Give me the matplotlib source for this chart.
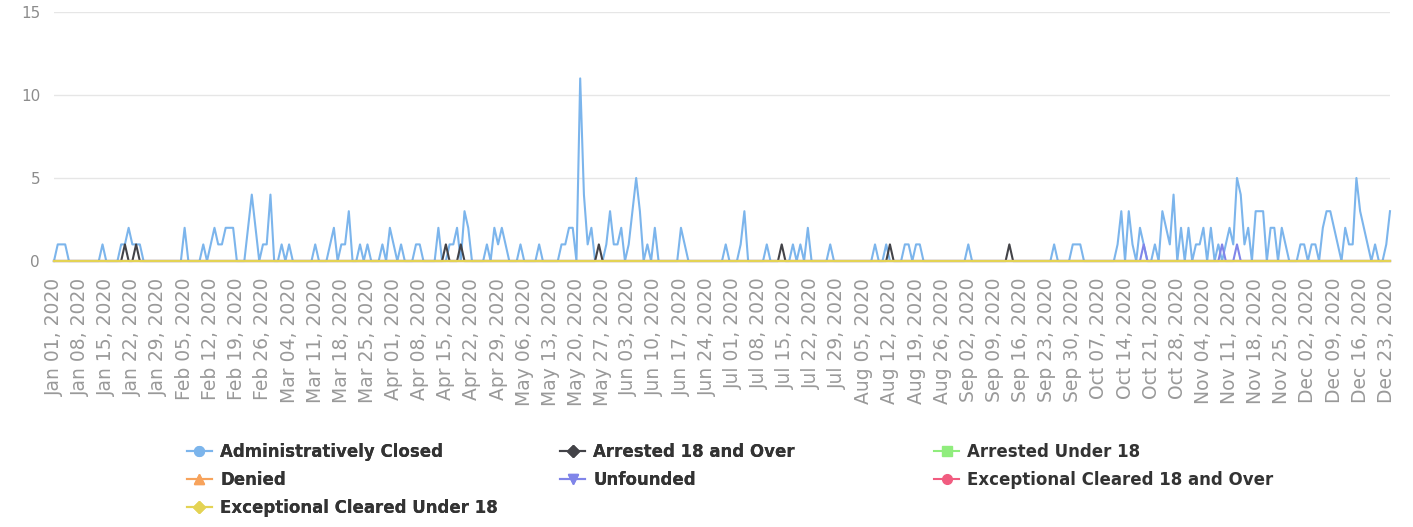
import numpy as np
import pandas as pd
import matplotlib
matplotlib.use('Agg')
import matplotlib.pyplot as plt

# daily counts, Jan 01 2020 .. Dec 24 2020
admin_jan = [0,1,1,1,0,0,0,0,0,0, 0,0,0,1,0,0,0,0,1,1, 2,1,1,1,0,0,0,0,0,0, 0]
admin_feb = [0,0,0,0,2,0,0,0,0,1, 0,1,2,1,1,2,2,2,0,0, 0,2,4,2,0,1,1,4,0]
admin_mar = [0,1,0,1,0,0,0,0,0,0, 1,0,0,0,1,2,0,1,1,3, 0,0,1,0,1,0,0,0,1,0, 2]
admin_apr = [1,0,1,0,0,0,1,1,0,0, 0,0,2,0,0,1,1,2,0,3, 2,0,0,0,0,1,0,2,1,2]
admin_may = [1,0,0,0,1,0,0,0,0,1, 0,0,0,0,0,1,1,2,2,0, 11,4,1,2,0,0,0,1,3,1, 1]
admin_jun = [2,0,1,3,5,3,0,1,0,2, 0,0,0,0,0,0,2,1,0,0, 0,0,0,0,0,0,0,0,1,0]
admin_jul = [0,0,1,3,0,0,0,0,0,1, 0,0,0,0,0,0,1,0,1,0, 2,0,0,0,0,0,1,0,0,0, 0]
admin_aug = [0,0,0,0,0,0,0,1,0,0, 1,0,0,0,0,1,1,0,1,1, 0,0,0,0,0,0,0,0,0,0, 0]
admin_sep = [0,1,0,0,0,0,0,0,0,0, 0,0,0,0,0,0,0,0,0,0, 0,0,0,0,1,0,0,0,0,1]
admin_oct = [1,1,0,0,0,0,0,0,0,0, 0,1,3,0,3,1,0,2,1,0, 0,1,0,3,2,1,4,0,2,0, 2]
admin_nov = [0,1,1,2,0,2,0,1,0,1, 2,1,5,4,1,2,0,3,3,3, 0,2,2,0,2,1,0,0,0,1]
admin_dec = [1,0,1,1,0,2,3,3,2,1, 0,2,1,1,5,3,2,1,0,1, 0,0,1,3]

# other series: only the non-zero days
arrested_18_over = {'2020-01-20': 1, '2020-01-23': 1, '2020-04-15': 1, '2020-04-19': 1,
                    '2020-05-26': 1, '2020-07-14': 1, '2020-08-12': 1, '2020-09-13': 1}
unfounded = {'2020-10-19': 1, '2020-11-09': 1, '2020-11-13': 1}
arrested_under_18 = {}
denied = {}
exc_cleared_18_over = {}
exc_cleared_under_18 = {}

series_names = ['Administratively Closed', 'Arrested 18 and Over', 'Arrested Under 18',
                'Denied', 'Unfounded', 'Exceptional Cleared 18 and Over',
                'Exceptional Cleared Under 18']
colors = ['#7cb5ec', '#434348', '#90ed7d', '#f7a35c', '#8085e9', '#f15c80', '#e4d354']
markers = ['o', 'D', 's', '^', 'v', 'o', 'D']

dates = pd.date_range('2020-01-01', '2020-12-24', freq='D')
admin = np.concatenate([admin_jan, admin_feb, admin_mar, admin_apr, admin_may, admin_jun,
                        admin_jul, admin_aug, admin_sep, admin_oct, admin_nov, admin_dec])

def daily(d):
    s = pd.Series(0.0, index=dates)
    for k, v in d.items():
        s[pd.Timestamp(k)] = v
    return s.values

values = [admin, daily(arrested_18_over), daily(arrested_under_18), daily(denied),
          daily(unfounded), daily(exc_cleared_18_over), daily(exc_cleared_under_18)]

W, H = 1413, 527
fig = plt.figure(figsize=(W / 100, H / 100), dpi=100)
ax = fig.add_axes([54 / W, (H - 261) / H, (1390 - 54) / W, (261 - 12) / H])

handles = []
for i, name in enumerate(series_names):
    ax.plot(dates, values[i], color=colors[i], lw=1.5, clip_on=False, zorder=3 + i)
    h, = ax.plot([], [], color=colors[i], lw=1.5, marker=markers[i],
                 markersize=7 if markers[i] != 'D' else 6, label=name)
    handles.append(h)

ax.set_xlim(dates[0], dates[-1])
ax.set_ylim(0, 15)
ax.set_yticks([0, 5, 10, 15])
ax.grid(axis='y', color='#e6e6e6', lw=1)
ax.set_axisbelow(True)
for s in ax.spines.values():
    s.set_visible(False)

ticks = pd.date_range('2020-01-01', '2020-12-24', freq='7D')
ax.set_xticks(ticks)
ax.set_xticklabels([t.strftime('%b %d, %Y') for t in ticks], rotation=90, va='top', ha='center')
ax.tick_params(axis='x', length=0, pad=12, labelsize=13.5, labelcolor='#999999')
ax.tick_params(axis='y', length=0, pad=10, labelsize=11, labelcolor='#8c8c8c')

# legend laid out as three columns, row-major like the original
cols = [[0, 3, 6], [1, 4], [2, 5]]
col_x = [187, 560, 934]
for j, idx in enumerate(cols):
    leg = fig.legend([handles[k] for k in idx], [series_names[k] for k in idx],
                     loc='upper left', bbox_to_anchor=(col_x[j] / W, 1 - 443 / H),
                     frameon=False, prop={'weight': 'bold', 'size': 12},
                     labelcolor='#333333', handlelength=1.5, handletextpad=0.5,
                     labelspacing=0.6, borderpad=0, borderaxespad=0)
    if j < 2:
        fig.add_artist(leg)

fig.savefig('out.png', dpi=100)
